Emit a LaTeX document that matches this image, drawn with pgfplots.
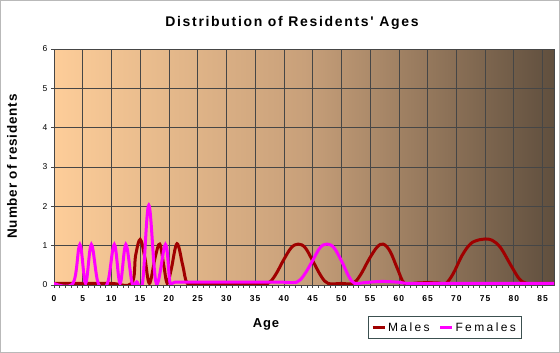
\documentclass[border=0pt]{standalone}
\usepackage{fontspec}
\setmainfont{Liberation Sans}
\newfontfamily\titlefont[LetterSpace=12]{Liberation Sans}
\newfontfamily\spacedfont[LetterSpace=20]{Liberation Sans}
\newfontfamily\tickfont[LetterSpace=12]{Liberation Sans}
\newfontfamily\labelfont[LetterSpace=6]{Liberation Sans}
\usepackage{pgfplots}
\pgfplotsset{compat=1.18}
\definecolor{male}{RGB}{160,0,0}
\definecolor{female}{RGB}{255,0,255}
\definecolor{bgL}{RGB}{253,205,153}
\definecolor{bgM}{RGB}{200,160,122}
\definecolor{bgR}{RGB}{96,79,62}
\definecolor{gridc}{RGB}{70,70,70}
\definecolor{framec}{RGB}{60,80,80}
\begin{document}
\begin{tikzpicture}[x=1pt,y=1pt]
\path[use as bounding box] (0,0) rectangle (560,353);
\draw[gray!55, line width=0.8pt] (0.4,0.4) rectangle (559.6,352.6);
\begin{axis}[
  at={(54pt,68pt)}, anchor=south west,
  scale only axis, width=500pt, height=236pt,
  xmin=0, xmax=87, ymin=0, ymax=6,
  xtick={0,5,...,85}, minor x tick num=4,
  ytick={0,1,...,6},
  tick pos=left,
  grid=major,
  major grid style={gridc, line width=0.6pt},
  axis line style={gridc, line width=0.7pt},
  tick align=outside,
  major tick length=3pt, minor tick length=3pt,
  every tick/.style={gridc, line width=0.5pt},
  axis background/.style={left color=bgL, right color=bgR, middle color=bgM},
  /pgf/number format/assume math mode=true,
  xticklabel style={font=\tickfont\bfseries\fontsize{8.5}{10}\selectfont, text=black, yshift=-4pt},
  yticklabel style={font=\fontsize{8.5}{10}\selectfont, text=black},
  legend style={at={(0.628,-0.229)}, anchor=south west, legend columns=2,
    draw=framec, line width=0.6pt, fill=none,
    font=\spacedfont\fontsize{12}{14}\selectfont, inner xsep=3pt, inner ysep=4pt,
    /tikz/every even column/.append style={column sep=7pt}},
  legend image code/.code={\draw[#1, line width=2.8pt] (0pt,0pt) -- (12pt,0pt);},
]
\addplot[male, line width=3pt, smooth, tension=0.6] coordinates {
(0,0.04)(5,0.04)(10,0.04)(13.5,0.04)(14.2,0.75)(15,1.16)(15.8,0.7)(16.6,0.04)
(17.6,0.7)(18.4,1.04)(19.1,0.5)(19.7,0.04)(20.4,0.4)(21.4,1.05)(22.4,0.5)(23.2,0.04)
(25,0.04)(30,0.04)(35,0.04)(37.2,0.04)(38.5,0.25)(40,0.65)(41.3,0.95)(42.5,1.04)(43.7,0.95)
(45,0.62)(46.5,0.22)(47.7,0.04)(50,0.04)(52,0.04)(53.3,0.25)(54.8,0.65)(56.2,0.96)(57.3,1.04)
(58.5,0.85)(59.8,0.4)(61,0.04)(63,0.05)(65,0.06)(67,0.05)(68.2,0.04)(69.5,0.3)
(71,0.75)(72.5,1.05)(74,1.15)(75,1.17)(76.2,1.14)(77.7,0.95)(79.5,0.5)(81,0.15)
(82.3,0.04)(84,0.04)(87,0.04)
};
\addlegendentry{Males}
\addplot[female, line width=3pt, smooth, tension=0.6] coordinates {
(0,0.04)(3.3,0.04)(4.5,1.03)(5.5,0.04)(6.5,1.03)(7.7,0.04)(9.3,0.04)(10.5,1.03)
(11.5,0.04)(12.5,1.03)(13.6,0.04)(14.4,0.08)(15.4,0.04)(16.5,2.03)(17.8,0.04)
(19.4,1.03)(20.2,0.04)(21,0.07)(25,0.07)(30,0.07)(35,0.07)(40,0.07)(42.2,0.07)
(43.5,0.25)(45,0.62)(46.3,0.95)(47.5,1.04)(48.7,0.95)(50,0.62)(51.3,0.22)(52.3,0.04)
(54,0.06)(57,0.09)(60,0.07)(62,0.04)(70,0.04)(80,0.04)(87,0.04)
};
\addlegendentry{Females}
\end{axis}
\node[font=\titlefont\bfseries\fontsize{14}{16}\selectfont] at (292,330) {Distribution of Residents' Ages};
\node[font=\labelfont\bfseries\fontsize{13}{15}\selectfont] at (266,29) {Age};
\node[font=\labelfont\bfseries\fontsize{13.5}{15}\selectfont, rotate=90] at (12,186.5) {Number of residents};
\end{tikzpicture}
\end{document}
